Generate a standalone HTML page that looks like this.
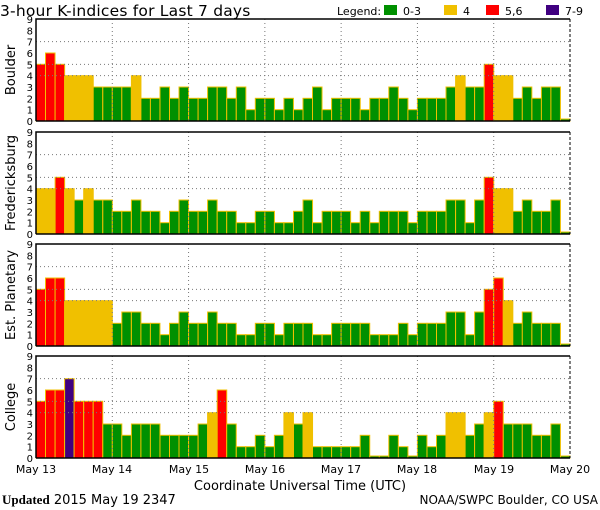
<!DOCTYPE html>
<html><head><meta charset="utf-8"><style>
body{margin:0;background:#fff;}
svg{display:block;font-family:"DejaVu Sans","Liberation Sans",sans-serif;}
</style></head><body>
<svg id="s" width="600" height="510" xmlns="http://www.w3.org/2000/svg">
<text x="0" y="16" font-size="15.5" letter-spacing="0.2">3-hour K-indices for Last 7 days</text>
<text x="337" y="15" font-size="11">Legend:</text>
<rect x="384" y="5" width="13" height="10" fill="#009000"/><text x="403" y="15" font-size="11">0-3</text>
<rect x="444" y="5" width="13" height="10" fill="#f0c000"/><text x="463" y="15" font-size="11">4</text>
<rect x="486" y="5" width="13" height="10" fill="#ff0000"/><text x="505" y="15" font-size="11">5,6</text>
<rect x="546" y="5" width="13" height="10" fill="#400080"/><text x="565" y="15" font-size="11">7-9</text>
<g id="g"></g>
<g font-size="11" text-anchor="middle">
<text x="36" y="473">May 13</text><text x="112" y="473">May 14</text><text x="189" y="473">May 15</text><text x="265" y="473">May 16</text><text x="341" y="473">May 17</text><text x="417" y="473">May 18</text><text x="494" y="473">May 19</text><text x="570" y="473">May 20</text>
<text x="300" y="490" font-size="13">Coordinate Universal Time (UTC)</text>
</g>
<text x="2" y="504" font-size="13"><tspan font-weight="bold" font-family="Liberation Serif,serif">Updated</tspan> 2015 May 19 2347</text>
<text x="598" y="504" font-size="12" text-anchor="end">NOAA/SWPC Boulder, CO USA</text>
</svg>
<script>
var D=[
["Boulder",19,[5,6,5,4,4,4,3,3,3,3,4,2,2,3,2,3,2,2,3,3,2,3,1,2,2,1,2,1,2,3,1,2,2,2,1,2,2,3,2,1,2,2,2,3,4,3,3,5,4,4,2,3,2,3,3,0]],
["Fredericksburg",132,[4,4,5,4,3,4,3,3,2,2,3,2,2,1,2,3,2,2,3,2,2,1,1,2,2,1,1,2,3,1,2,2,2,1,2,1,2,2,2,1,2,2,2,3,3,1,3,5,4,4,2,3,2,2,3,0]],
["Est. Planetary",244,[5,6,6,4,4,4,4,4,2,3,3,2,2,1,2,3,2,2,3,2,2,1,1,2,2,1,2,2,2,1,1,2,2,2,2,1,1,1,2,1,2,2,2,3,3,1,3,5,6,4,2,3,2,2,2,0]],
["College",356,[5,6,6,7,5,5,5,3,3,2,3,3,3,2,2,2,2,3,4,6,3,1,1,2,1,2,4,3,4,1,1,1,1,1,2,0,0,2,1,0,2,1,2,4,4,2,3,4,5,3,3,3,2,2,3,0]]];
var h='',u=102/9,bw=534/56;
function col(v){return v<=3?'#009000':v==4?'#f0c000':v<=6?'#ff0000':'#400080';}
D.forEach(function(p){var t=p[1],b=t+102;
 p[2].forEach(function(v,i){var x=36+i*bw,hh=v==0?2:v*u;
  h+='<rect x="'+x.toFixed(1)+'" y="'+(b-hh).toFixed(1)+'" width="'+bw.toFixed(2)+'" height="'+hh.toFixed(1)+'" fill="'+col(v)+'" stroke="#f0c000" stroke-width="1"/>';});
 [4,5,7].forEach(function(k){var y=b-k*u;h+='<line x1="36" x2="570" y1="'+y+'" y2="'+y+'" stroke="#777" stroke-dasharray="1,3"/>';});
 for(var d=1;d<7;d++){var x=36+d*534/7;h+='<line x1="'+x+'" x2="'+x+'" y1="'+t+'" y2="'+b+'" stroke="#777" stroke-dasharray="1,3"/>';}
 h+='<path d="M36 '+b+'V'+t+'H570" fill="none" stroke="#000" stroke-width="1.5"/>';
 h+='<line x1="36" x2="570" y1="'+b+'" y2="'+b+'" stroke="#000" stroke-width="1.5"/>';
 h+='<line x1="570" x2="570" y1="'+t+'" y2="'+b+'" stroke="#000" stroke-dasharray="3,2"/>';
 for(var k=0;k<=9;k++){h+='<text x="33" y="'+(b-k*u+4)+'" font-size="10" text-anchor="end">'+k+'</text>';}
 h+='<text transform="translate(15,'+(t+51)+') rotate(-90)" font-size="13" text-anchor="middle">'+p[0]+'</text>';
});
document.getElementById('g').innerHTML=h;
</script>
</body></html>
